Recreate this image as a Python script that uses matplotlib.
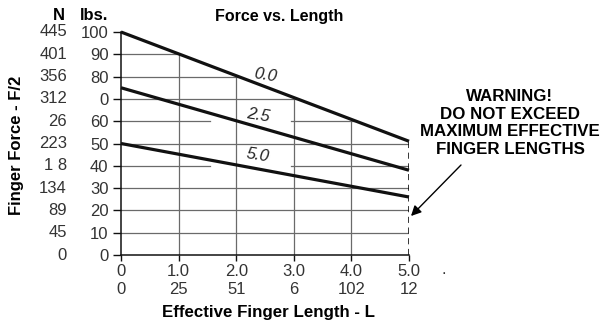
import numpy as np
import matplotlib.pyplot as plt
from matplotlib.transforms import blended_transform_factory

plt.rcParams["font.family"] = ["Liberation Sans", "DejaVu Sans"]

# finger length (in) at the two ends of each line
lengths = [0.0, 5.0]
force_00 = [100, 51]
force_25 = [75, 38]
force_50 = [50, 26]
curve_labels = ["0.0", "2.5", "5.0"]
label_pos = [(2.50, 80.5), (2.38, 62.5), (2.38, 44.5)]

lbs_ticks = [0, 10, 20, 30, 40, 50, 60, 70, 80, 90, 100]
lbs_labels = ["0", "10", "20", "30", "40", "50", "60", "0", "80", "90", "100"]
n_labels = ["0", "45", "89", "134", "1 8", "223", "26", "312", "356", "401", "445"]
in_ticks = [0, 1, 2, 3, 4, 5]
in_labels = ["0", "1.0", "2.0", "3.0", "4.0", "5.0"]
mm_labels = ["0", "25", "51", "6", "102", "12"]

warning = "WARNING!\nDO NOT EXCEED\nMAXIMUM EFFECTIVE\nFINGER LENGTHS"

fig = plt.figure(figsize=(6.11, 3.28), dpi=100)
ax = fig.add_axes([121 / 611, 1 - 255 / 328, 288 / 611, 223 / 328])
ax.set_xlim(0, 5)
ax.set_ylim(0, 100)

# grid only under the 0.0 line
GRID = "#6a6a6a"
top_x = lambda v: min(5.0, np.interp(v, force_00[::-1], lengths[::-1]))
for v in lbs_ticks[1:-1]:
    x_end = top_x(v)
    if v in (60, 40):
        ax.plot([0, 1.55], [v, v], color=GRID, lw=0.9, zorder=1)
        ax.plot([2.95, x_end], [v, v], color=GRID, lw=0.9, zorder=1)
    else:
        ax.plot([0, x_end], [v, v], color=GRID, lw=0.9, zorder=1)
for k in in_ticks[1:-1]:
    ax.plot([k, k], [0, np.interp(k, lengths, force_00)], color=GRID, lw=0.9, zorder=1)
ax.plot([5, 5], [0, force_00[-1]], color="black", lw=1.1, ls=(0, (4, 3)), zorder=2)

for ys in (force_00, force_25, force_50):
    ax.plot(lengths, ys, color="#111111", lw=2.3, solid_capstyle="butt", zorder=3, clip_on=False)

for lab, (lx, ly) in zip(curve_labels, label_pos):
    ax.text(lx, ly, lab, fontsize=12, style="italic", rotation=-9,
            ha="center", va="center", color="#222222", zorder=4)

for s in ("top", "right"):
    ax.spines[s].set_visible(False)
for s in ("left", "bottom"):
    ax.spines[s].set_linewidth(1.1)
    ax.spines[s].set_color("#111111")

ax.set_yticks(lbs_ticks)
ax.set_yticklabels(lbs_labels)
ax.tick_params(axis="y", direction="out", length=6, width=1.0, pad=3,
               labelsize=12, colors="#111111", labelcolor="#333333")
ax.set_xticks(in_ticks)
ax.set_xticklabels([])
ax.tick_params(axis="x", direction="out", length=4, width=1.0, colors="#111111")

# N column
ty = blended_transform_factory(fig.transFigure, ax.transData)
for v, lab in zip(lbs_ticks, n_labels):
    ax.text(67 / 611, v, lab, transform=ty, ha="right", va="center",
            fontsize=12, color="#333333")

# two rows of x labels
tx = blended_transform_factory(ax.transData, fig.transFigure)
for k, a, b in zip(in_ticks, in_labels, mm_labels):
    ax.text(k, 1 - 272 / 328, a, transform=tx, ha="center", va="center",
            fontsize=12, color="#333333")
    ax.text(k, 1 - 289 / 328, b, transform=tx, ha="center", va="center",
            fontsize=12, color="#333333")
fig.text(444 / 611, 1 - 270 / 328, ".", ha="center", va="center", fontsize=12, color="#333333")

fig.text(59 / 611, 1 - 15 / 328, "N", ha="center", va="center", fontsize=12, weight="bold")
fig.text(94 / 611, 1 - 15 / 328, "lbs.", ha="center", va="center", fontsize=12, weight="bold")
fig.text(279 / 611, 1 - 17 / 328, "Force vs. Length", ha="center", va="center",
         fontsize=11.5, weight="bold")
fig.text(17 / 611, 1 - 145 / 328, "Finger Force - F/2", rotation=90, ha="center",
         va="center", fontsize=12, weight="bold")
fig.text(268 / 611, 1 - 313 / 328, "Effective Finger Length - L", ha="center",
         va="center", fontsize=12.2, weight="bold")

fig.text(510 / 611, 1 - 123 / 328, warning, ha="center", va="center",
         fontsize=12.2, weight="bold", linespacing=1.2)
ax.annotate("", xy=(411 / 611, 1 - 216 / 328), xycoords="figure fraction",
            xytext=(461 / 611, 1 - 165 / 328), textcoords="figure fraction",
            arrowprops=dict(arrowstyle="-|>", color="black", lw=1.0,
                            mutation_scale=15, shrinkA=0, shrinkB=0))

fig.savefig("out.png", dpi=100, facecolor="white")
